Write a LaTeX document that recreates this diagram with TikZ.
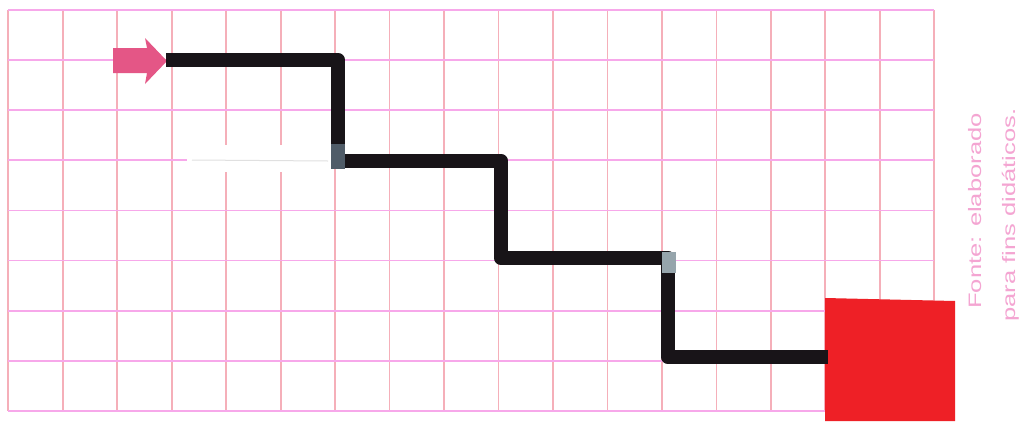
\documentclass[tikz,border=0pt]{standalone}
\usepackage{fontspec}
\newfontfamily\srcfont{Liberation Sans}
\definecolor{gridpink}{RGB}{247,168,234}
\definecolor{gridorange}{RGB}{245,175,185}
\definecolor{arrowpink}{RGB}{228,86,134}
\definecolor{pathblack}{RGB}{24,20,24}
\definecolor{pathgray}{RGB}{80,92,104}
\definecolor{patchgray}{RGB}{150,165,172}
\definecolor{markred}{RGB}{238,32,38}
\definecolor{textpink}{RGB}{244,165,210}
\begin{document}
\begin{tikzpicture}[x=1pt,y=-1pt,
  hline/.style={gridpink,line width=1.8pt},
  vline/.style={gridorange,line width=1.8pt},
  pathline/.style={pathblack,line width=14.5pt,line join=round,line cap=butt},
  srctext/.style={textpink,rotate=90,anchor=base,inner sep=0pt,font=\srcfont\fontsize{18}{20}\selectfont}]
\useasboundingbox (0,0) rectangle (1021,421);
\fill[white] (0,0) rectangle (1021,421);
% grid
\foreach \i in {0,...,17} {
  \draw[vline] ({8.3+54.47*\i},10) -- ({8.3+54.47*\i},411);
}
\foreach \j in {0,...,8} {
  \draw[hline] (8.3,{10+50.1*\j}) -- (934.3,{10+50.1*\j});
}
% white correction patch
\fill[white] (187,145) rectangle (333,172);
\draw[black!12,line width=1pt] (192,160) -- (328,161);
% red target square
\fill[markred] (825,298) -- (955,301) -- (955,421) -- (825,421) -- cycle;
% start arrow
\fill[arrowpink] (113,48) -- (147,48) -- (145,38) -- (167,61) -- (145,84) -- (147,73) -- (113,73) -- cycle;
% path
\coordinate (p0) at (166,60);
\coordinate (p1) at (338,60);
\coordinate (p2) at (338,161);
\coordinate (p3) at (501,161);
\coordinate (p4) at (501,258);
\coordinate (p5) at (668,258);
\coordinate (p6) at (668,357);
\coordinate (p7) at (828,357);
\draw[pathline] (p0) -- (p1) -- (p2) -- (p3) -- (p4) -- (p5) -- (p6) -- (p7);
\fill[pathgray] (331,144) rectangle (345,169);
\fill[patchgray] (662,252) rectangle (676,273);
% source text
\node[srctext] (src1) at (981,211) {\scalebox{1.42}[1]{Fonte: elaborado}};
\node[srctext] (src2) at (1015,215) {\scalebox{1.42}[1]{para fins didáticos.}};
\end{tikzpicture}
\end{document}
